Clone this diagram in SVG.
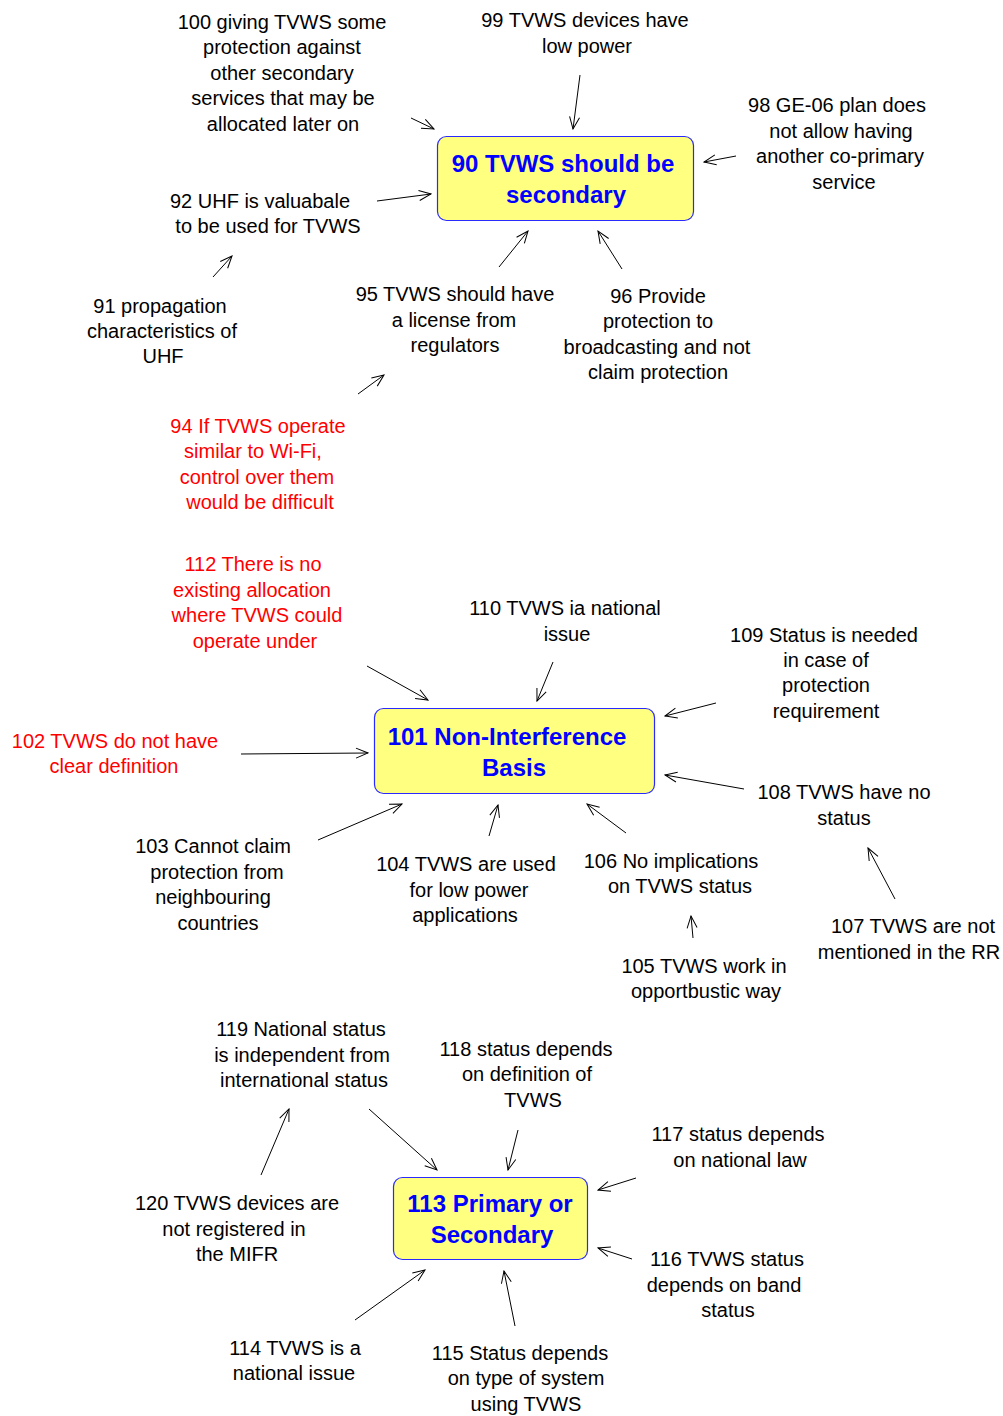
<svg xmlns="http://www.w3.org/2000/svg" width="1003" height="1416" viewBox="0 0 1003 1416">
  <style>
    .lbl { font-family: "Liberation Sans", Arial, sans-serif; font-size: 20px; fill: #000; text-anchor: middle; }
    .red { fill: #ff0000; }
    .box { fill: #ffff80; stroke: #2a2aff; stroke-width: 1.2; }
    .hd { font-family: "Liberation Sans", Arial, sans-serif; font-size: 24px; font-weight: bold; fill: #0000ff; text-anchor: middle; }
    .edge { stroke: #000; stroke-width: 1; fill: none; marker-end: url(#open); }
  </style>
  <defs>
    <marker id="open" markerUnits="userSpaceOnUse" markerWidth="14" markerHeight="12" refX="13" refY="6" orient="auto">
      <path d="M1,1 L13,6 L1,11" fill="none" stroke="#000" stroke-width="1"/>
    </marker>
  </defs>
  <rect width="1003" height="1416" fill="#fff"/>

  <!-- connectors -->
  <g id="connectors">
    <line class="edge" x1="411" y1="118" x2="434" y2="129"/>
    <line class="edge" x1="580" y1="75" x2="573" y2="129"/>
    <line class="edge" x1="736" y1="156" x2="704" y2="162"/>
    <line class="edge" x1="377" y1="201" x2="431" y2="194"/>
    <line class="edge" x1="213" y1="277" x2="232" y2="256"/>
    <line class="edge" x1="499" y1="267" x2="528" y2="231"/>
    <line class="edge" x1="622" y1="269" x2="598" y2="231"/>
    <line class="edge" x1="358" y1="394" x2="384" y2="375"/>

    <line class="edge" x1="367" y1="666" x2="428" y2="700"/>
    <line class="edge" x1="553" y1="662" x2="537" y2="701"/>
    <line class="edge" x1="716" y1="703" x2="665" y2="716"/>
    <line class="edge" x1="241" y1="754" x2="368" y2="753"/>
    <line class="edge" x1="744" y1="789" x2="665" y2="775"/>
    <line class="edge" x1="318" y1="840" x2="402" y2="804"/>
    <line class="edge" x1="489" y1="836" x2="498" y2="805"/>
    <line class="edge" x1="626" y1="833" x2="587" y2="804"/>
    <line class="edge" x1="895" y1="899" x2="868" y2="848"/>
    <line class="edge" x1="693" y1="938" x2="691" y2="916"/>

    <line class="edge" x1="369" y1="1109" x2="437" y2="1170"/>
    <line class="edge" x1="518" y1="1130" x2="508" y2="1170"/>
    <line class="edge" x1="636" y1="1178" x2="598" y2="1190"/>
    <line class="edge" x1="632" y1="1259" x2="598" y2="1248"/>
    <line class="edge" x1="261" y1="1175" x2="289" y2="1109"/>
    <line class="edge" x1="355" y1="1320" x2="425" y2="1270"/>
    <line class="edge" x1="515" y1="1326" x2="504" y2="1271"/>
  </g>

  <!-- central topics -->
  <g id="n90">
    <rect class="box" x="437.5" y="136.5" width="256" height="84" rx="9"/>
    <text class="hd" x="563" y="172">90 TVWS should be</text>
    <text class="hd" x="566" y="203">secondary</text>
  </g>
  <g id="n101">
    <rect class="box" x="374.5" y="708.5" width="280" height="85" rx="9"/>
    <text class="hd" x="507" y="745">101 Non-Interference</text>
    <text class="hd" x="514" y="776">Basis</text>
  </g>
  <g id="n113">
    <rect class="box" x="393.5" y="1177.5" width="194" height="82" rx="9"/>
    <text class="hd" x="490" y="1212">113 Primary or</text>
    <text class="hd" x="492" y="1243">Secondary</text>
  </g>

  <!-- statements around 90 -->
  <g id="n100">
    <text class="lbl" x="282" y="29">100 giving TVWS some</text>
    <text class="lbl" x="282" y="54">protection against</text>
    <text class="lbl" x="282" y="80">other secondary</text>
    <text class="lbl" x="283" y="105">services that may be</text>
    <text class="lbl" x="283" y="131">allocated later on</text>
  </g>
  <g id="n99">
    <text class="lbl" x="585" y="27">99 TVWS devices have</text>
    <text class="lbl" x="587" y="53">low power</text>
  </g>
  <g id="n98">
    <text class="lbl" x="837" y="112">98 GE-06 plan does</text>
    <text class="lbl" x="841" y="138">not allow having</text>
    <text class="lbl" x="840" y="163">another co-primary</text>
    <text class="lbl" x="844" y="189">service</text>
  </g>
  <g id="n92">
    <text class="lbl" x="260" y="208">92 UHF is valuabale</text>
    <text class="lbl" x="268" y="233">to be used for TVWS</text>
  </g>
  <g id="n91">
    <text class="lbl" x="160" y="313">91 propagation</text>
    <text class="lbl" x="162" y="338">characteristics of</text>
    <text class="lbl" x="163" y="363">UHF</text>
  </g>
  <g id="n95">
    <text class="lbl" x="455" y="301">95 TVWS should have</text>
    <text class="lbl" x="454" y="327">a license from</text>
    <text class="lbl" x="455" y="352">regulators</text>
  </g>
  <g id="n96">
    <text class="lbl" x="658" y="303">96 Provide</text>
    <text class="lbl" x="658" y="328">protection to</text>
    <text class="lbl" x="657" y="354">broadcasting and not</text>
    <text class="lbl" x="658" y="379">claim protection</text>
  </g>
  <g id="n94">
    <text class="lbl red" x="258" y="433">94 If TVWS operate</text>
    <text class="lbl red" x="253" y="458">similar to Wi-Fi,</text>
    <text class="lbl red" x="257" y="484">control over them</text>
    <text class="lbl red" x="260" y="509">would be difficult</text>
  </g>

  <!-- statements around 101 -->
  <g id="n112">
    <text class="lbl red" x="253" y="571">112 There is no</text>
    <text class="lbl red" x="252" y="597">existing allocation</text>
    <text class="lbl red" x="257" y="622">where TVWS could</text>
    <text class="lbl red" x="255" y="648">operate under</text>
  </g>
  <g id="n110">
    <text class="lbl" x="565" y="615">110 TVWS ia national</text>
    <text class="lbl" x="567" y="641">issue</text>
  </g>
  <g id="n109">
    <text class="lbl" x="824" y="642">109 Status is needed</text>
    <text class="lbl" x="826" y="667">in case of</text>
    <text class="lbl" x="826" y="692">protection</text>
    <text class="lbl" x="826" y="718">requirement</text>
  </g>
  <g id="n102">
    <text class="lbl red" x="115" y="748">102 TVWS do not have</text>
    <text class="lbl red" x="114" y="773">clear definition</text>
  </g>
  <g id="n108">
    <text class="lbl" x="844" y="799">108 TVWS have no</text>
    <text class="lbl" x="844" y="825">status</text>
  </g>
  <g id="n103">
    <text class="lbl" x="213" y="853">103 Cannot claim</text>
    <text class="lbl" x="217" y="879">protection from</text>
    <text class="lbl" x="213" y="904">neighbouring</text>
    <text class="lbl" x="218" y="930">countries</text>
  </g>
  <g id="n104">
    <text class="lbl" x="466" y="871">104 TVWS are used</text>
    <text class="lbl" x="469" y="897">for low power</text>
    <text class="lbl" x="465" y="922">applications</text>
  </g>
  <g id="n106">
    <text class="lbl" x="671" y="868">106 No implications</text>
    <text class="lbl" x="680" y="893">on TVWS status</text>
  </g>
  <g id="n107">
    <text class="lbl" x="913" y="933">107 TVWS are not</text>
    <text class="lbl" x="909" y="959">mentioned in the RR</text>
  </g>
  <g id="n105">
    <text class="lbl" x="704" y="973">105 TVWS work in</text>
    <text class="lbl" x="706" y="998">opportbustic way</text>
  </g>

  <!-- statements around 113 -->
  <g id="n119">
    <text class="lbl" x="301" y="1036">119 National status</text>
    <text class="lbl" x="302" y="1062">is independent from</text>
    <text class="lbl" x="304" y="1087">international status</text>
  </g>
  <g id="n118">
    <text class="lbl" x="526" y="1056">118 status depends</text>
    <text class="lbl" x="527" y="1081">on definition of</text>
    <text class="lbl" x="533" y="1107">TVWS</text>
  </g>
  <g id="n117">
    <text class="lbl" x="738" y="1141">117 status depends</text>
    <text class="lbl" x="740" y="1167">on national law</text>
  </g>
  <g id="n120">
    <text class="lbl" x="237" y="1210">120 TVWS devices are</text>
    <text class="lbl" x="234" y="1236">not registered in</text>
    <text class="lbl" x="237" y="1261">the MIFR</text>
  </g>
  <g id="n116">
    <text class="lbl" x="727" y="1266">116 TVWS status</text>
    <text class="lbl" x="724" y="1292">depends on band</text>
    <text class="lbl" x="728" y="1317">status</text>
  </g>
  <g id="n114">
    <text class="lbl" x="295" y="1355">114 TVWS is a</text>
    <text class="lbl" x="294" y="1380">national issue</text>
  </g>
  <g id="n115">
    <text class="lbl" x="520" y="1360">115 Status depends</text>
    <text class="lbl" x="526" y="1385">on type of system</text>
    <text class="lbl" x="526" y="1411">using TVWS</text>
  </g>
</svg>
